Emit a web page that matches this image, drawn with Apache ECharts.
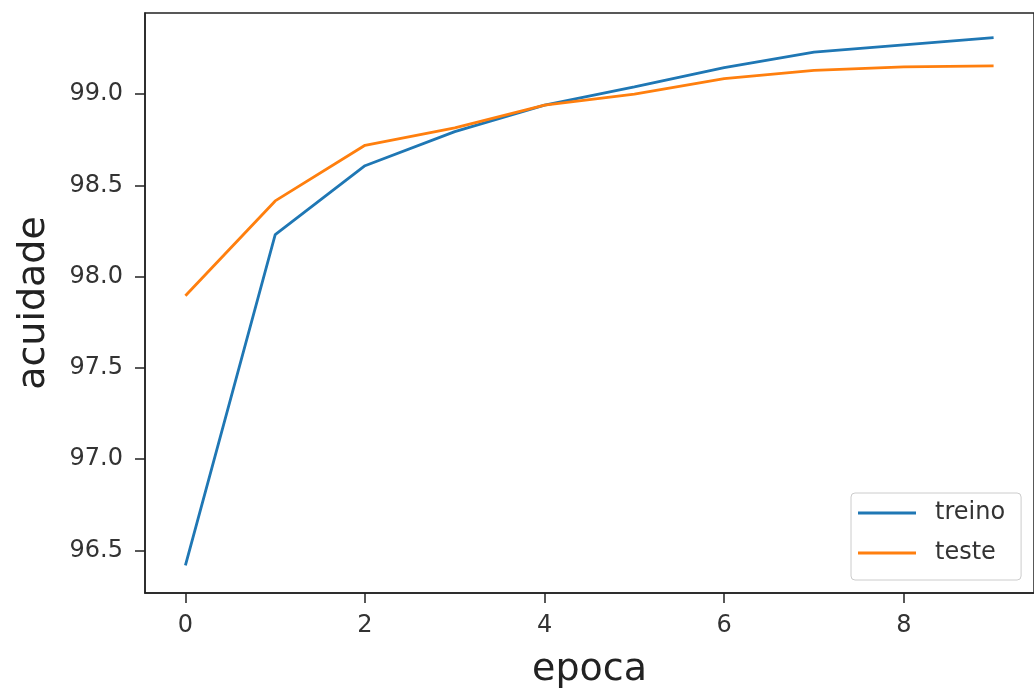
<!DOCTYPE html>
<html>
<head>
<meta charset="utf-8">
<script src="https://cdn.jsdelivr.net/npm/echarts@6/dist/echarts.min.js"></script>
<style>
  html, body { margin: 0; padding: 0; background: #fff; }
  #chart { width: 1034px; height: 694px; }
</style>
</head>
<body>
<div id="chart"></div>
<script>
// dados
const epocas = [0, 1, 2, 3, 4, 5, 6, 7, 8, 9]
const treino = [96.418, 98.23, 98.608, 98.795, 98.94, 99.04, 99.145, 99.23, 99.27, 99.31]
const teste = [97.895, 98.415, 98.72, 98.815, 98.94, 99.0, 99.085, 99.13, 99.15, 99.155]
const xTicks = [0, 2, 4, 6, 8]
const yTicks = [96.5, 97.0, 97.5, 98.0, 98.5, 99.0]

const font = 'DejaVu Sans'
const axisColor = '#222'

const chart = echarts.init(document.getElementById('chart'))

const option = {
    animation: false,
    grid: {
        left: 145,
        right: -4,
        top: 13,
        bottom: 100,
        show: true,
        borderColor: axisColor,
        borderWidth: 1.5
    },
    legend: {
        orient: 'vertical',
        left: 851,
        top: 493,
        icon: 'rect',
        itemWidth: 58,
        itemHeight: 3,
        itemGap: 16,
        padding: [8, 16, 15, 7],
        borderColor: '#ccc',
        borderWidth: 1,
        borderRadius: 4,
        backgroundColor: '#fff',
        textStyle: {
            fontFamily: font,
            fontSize: 24,
            lineHeight: 24,
            color: '#333',
            padding: [0, 0, 0, 14]
        },
        data: ['treino', 'teste']
    },
    xAxis: {
        type: 'value',
        min: -0.45,
        max: 9.45,
        name: 'epoca',
        nameLocation: 'middle',
        nameGap: 58,
        nameTextStyle: { fontFamily: font, fontSize: 38, color: '#222' },
        splitLine: { show: false },
        axisLine: { onZero: false, lineStyle: { color: axisColor, width: 1.5 } },
        axisTick: {
            customValues: xTicks,
            length: 10,
            lineStyle: { color: axisColor, width: 1.5 }
        },
        axisLabel: {
            customValues: xTicks,
            margin: 21,
            fontFamily: font,
            fontSize: 24,
            color: '#333'
        }
    },
    yAxis: {
        type: 'value',
        min: 96.266,
        max: 99.445,
        name: 'acuidade',
        nameLocation: 'middle',
        nameGap: 92,
        nameTextStyle: { fontFamily: font, fontSize: 38, color: '#222' },
        splitLine: { show: false },
        axisLine: { show: true, onZero: false, lineStyle: { color: axisColor, width: 1.5 } },
        axisTick: {
            show: true,
            customValues: yTicks,
            length: 10,
            lineStyle: { color: axisColor, width: 1.5 }
        },
        axisLabel: {
            customValues: yTicks,
            margin: 22,
            fontFamily: font,
            fontSize: 24,
            color: '#333',
            formatter: v => v.toFixed(1)
        }
    },
    series: [
        {
            name: 'treino',
            type: 'line',
            data: epocas.map((e, i) => [e, treino[i]]),
            showSymbol: false,
            color: '#1f77b4',
            lineStyle: { width: 2.8, color: '#1f77b4' }
        },
        {
            name: 'teste',
            type: 'line',
            data: epocas.map((e, i) => [e, teste[i]]),
            showSymbol: false,
            color: '#ff7f0e',
            lineStyle: { width: 2.8, color: '#ff7f0e' }
        }
    ]
}

chart.setOption(option)
</script>
</body>
</html>
